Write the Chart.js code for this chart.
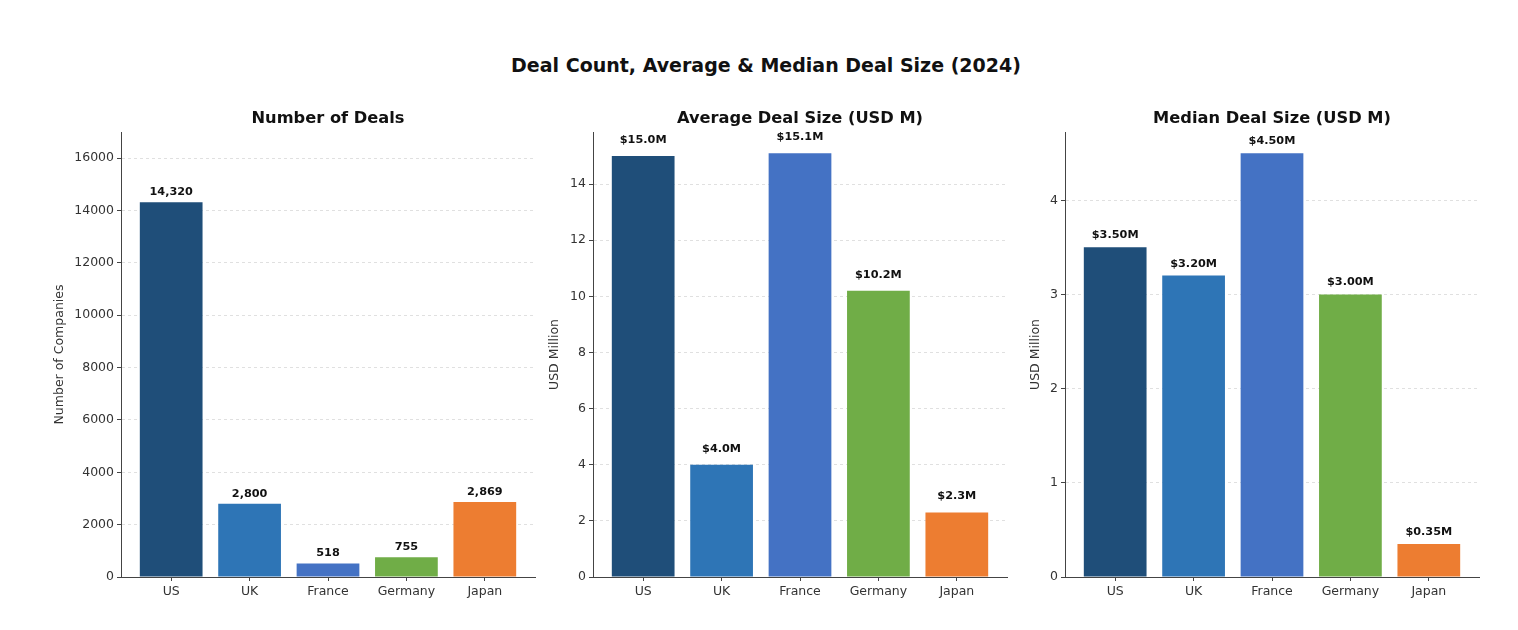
<!DOCTYPE html>
<html>
<head>
<meta charset="utf-8">
<title>Deal Count, Average & Median Deal Size (2024)</title>
<script src="https://cdn.jsdelivr.net/npm/chart.js@4.4.1/dist/chart.umd.min.js"></script>
<style>
    body {
        margin: 0;
        width: 1518px;
        height: 630px;
        background: #fff;
        position: relative;
        overflow: hidden;
        font-family: "DejaVu Sans", sans-serif;
    }
    #mainTitle {
        position: absolute;
        left: 0;
        width: 1532px;
        top: 54px;
        line-height: 22px;
        text-align: center;
        font-weight: bold;
        font-size: 19px;
        color: #111;
    }
    canvas {
        position: absolute;
        top: 100px;
    }
</style>
</head>
<body>
<div id="mainTitle">Deal Count, Average &amp; Median Deal Size (2024)</div>
<canvas id="dealsChart" width="500" height="517" style="left:40px"></canvas>
<canvas id="avgChart" width="472" height="517" style="left:540px"></canvas>
<canvas id="medianChart" width="472" height="517" style="left:1012px"></canvas>

<script>
const categories = ['US', 'UK', 'France', 'Germany', 'Japan'];
const barColors = ['#1f4e79', '#2e75b6', '#4472c4', '#70ad47', '#ed7d31'];

const dealCounts = [14320, 2800, 518, 755, 2869];
const avgDealSize = [15.0, 4.0, 15.1, 10.2, 2.3];
const medianDealSize = [3.50, 3.20, 4.50, 3.00, 0.35];

const dealCountTicks = [0, 2000, 4000, 6000, 8000, 10000, 12000, 14000, 16000];
const avgTicks = [0, 2, 4, 6, 8, 10, 12, 14];
const medianTicks = [0, 1, 2, 3, 4];

const FONT = '"DejaVu Sans", sans-serif';

const panels = [
    {
        canvas: 'dealsChart', title: 'Number of Deals', yTitle: 'Number of Companies',
        values: dealCounts, ticks: dealCountTicks, yMax: 17000,
        fmt: v => v.toLocaleString('en-US'),
        axisWidth: 81, yTitlePad: 12.5, labelGap: 10
    },
    {
        canvas: 'avgChart', title: 'Average Deal Size (USD M)', yTitle: 'USD Million',
        values: avgDealSize, ticks: avgTicks, yMax: 15.855,
        fmt: v => '$' + v.toFixed(1) + 'M',
        axisWidth: 53, yTitlePad: 7.5, labelGap: 16
    },
    {
        canvas: 'medianChart', title: 'Median Deal Size (USD M)', yTitle: 'USD Million',
        values: medianDealSize, ticks: medianTicks, yMax: 4.725,
        fmt: v => '$' + v.toFixed(2) + 'M',
        axisWidth: 53, yTitlePad: 16.5, labelGap: 12
    }
];

// subplot title centred over the plot area (like matplotlib), plus value labels above bars
const panelDecor = {
    id: 'panelDecor',
    afterDatasetsDraw(chart, args, opts) {
        const ctx = chart.ctx;
        const area = chart.chartArea;
        ctx.save();
        ctx.fillStyle = '#111';
        ctx.textAlign = 'center';
        ctx.textBaseline = 'middle';
        ctx.font = 'bold 16.25px ' + FONT;
        ctx.fillText(opts.title, (area.left + area.right) / 2, area.top - 13);

        ctx.font = 'bold 11.25px ' + FONT;
        const meta = chart.getDatasetMeta(0);
        meta.data.forEach((bar, i) => {
            ctx.fillText(opts.fmt(opts.values[i]), bar.x, bar.y - opts.labelGap);
        });
        ctx.restore();
    }
};

panels.forEach(p => {
    new Chart(document.getElementById(p.canvas), {
        type: 'bar',
        data: {
            datasets: [{
                data: p.values.map((v, i) => ({ x: i, y: v })),
                backgroundColor: barColors,
                borderWidth: 0,
                categoryPercentage: 1.0,
                barPercentage: 0.8
            }]
        },
        plugins: [panelDecor],
        options: {
            responsive: false,
            animation: false,
            events: [],
            layout: { padding: { top: 32, right: 5, left: 0, bottom: 0 } },
            plugins: {
                legend: { display: false },
                tooltip: { enabled: false },
                panelDecor: { title: p.title, values: p.values, fmt: p.fmt, labelGap: p.labelGap }
            },
            scales: {
                x: {
                    type: 'linear',
                    offset: false,
                    min: -0.64,
                    max: 4.64,
                    afterBuildTicks: axis => { axis.ticks = categories.map((c, i) => ({ value: i })); },
                    afterFit: axis => { axis.height = 40; },
                    ticks: {
                        autoSkip: false,
                        maxRotation: 0,
                        padding: 3,
                        color: '#333',
                        font: { family: FONT, size: 12.5 },
                        callback: v => categories[Math.round(v)]
                    },
                    grid: {
                        offset: false,
                        drawOnChartArea: false,
                        drawTicks: true,
                        tickLength: 4,
                        tickWidth: 1,
                        tickColor: '#444',
                        color: '#444'
                    },
                    border: { color: '#444', width: 1, z: 1 }
                },
                y: {
                    min: 0,
                    max: p.yMax,
                    afterBuildTicks: axis => { axis.ticks = p.ticks.map(v => ({ value: v })); },
                    afterFit: axis => { axis.width = p.axisWidth; },
                    ticks: {
                        padding: 3,
                        color: '#333',
                        font: { family: FONT, size: 12.5 },
                        callback: v => String(v)
                    },
                    grid: {
                        color: '#d9d9d9',
                        lineWidth: 0.8,
                        tickLength: 4,
                        tickWidth: 1,
                        tickColor: '#444'
                    },
                    border: { color: '#444', width: 1, dash: [3, 3], z: 1 },
                    title: {
                        display: true,
                        text: p.yTitle,
                        color: '#333',
                        font: { family: FONT, size: 12.5 },
                        padding: { top: p.yTitlePad, bottom: 0 }
                    }
                }
            }
        }
    });
});
</script>
</body>
</html>
